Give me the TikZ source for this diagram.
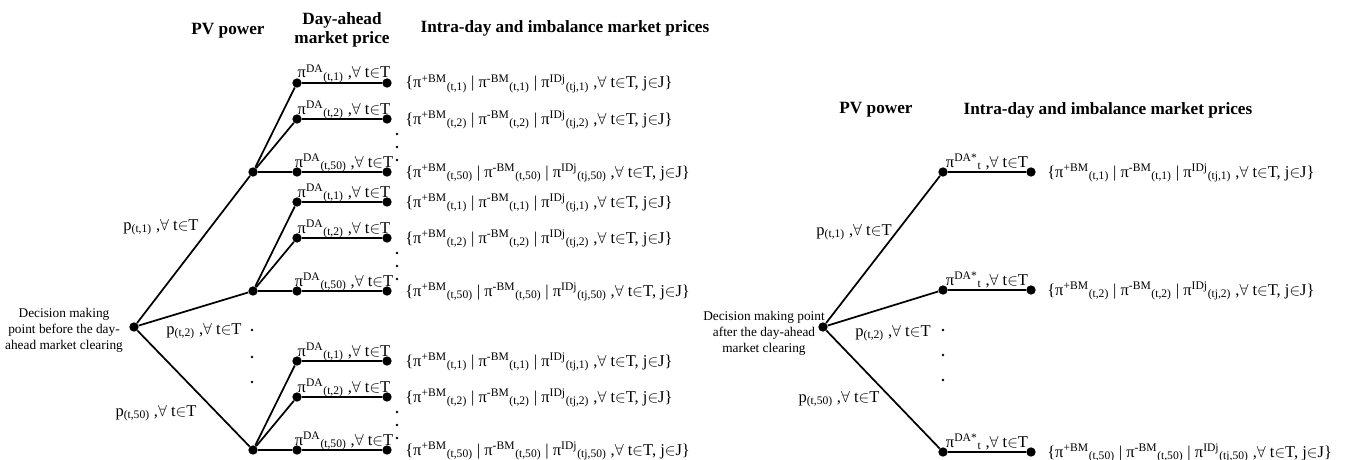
\documentclass[tikz,border=0pt]{standalone}
\usepackage{fontspec}
\setmainfont{Liberation Serif}
\usetikzlibrary{positioning}

\newcommand{\forallT}{,$\forall$ t$\in$T}
\newcommand{\daprice}[1]{π\textsuperscript{DA}\textsubscript{(t,#1)} \forallT}
\newcommand{\dastar}{π\textsuperscript{DA*}\textsubscript{t} \forallT}
\newcommand{\pvpower}[1]{p\textsubscript{(t,#1)} \forallT}
\newcommand{\imprice}[1]{\{π\textsuperscript{+BM}\textsubscript{(t,#1)} | π\textsuperscript{-BM}\textsubscript{(t,#1)} | π\textsuperscript{IDj}\textsubscript{(tj,#1)} \forallT, j$\in$J\}}

\begin{document}
\begin{tikzpicture}[
        x=0.75pt, y=-0.75pt,
        dot/.style={circle, fill=black, inner sep=0pt, minimum size=7pt},
        branch/.style={line width=1.3pt},
        lbl/.style={font=\fontsize{12.4}{14}\selectfont, inner sep=0pt},
        head/.style={font=\fontsize{12.9}{14.5}\selectfont\bfseries, align=center},
        note/.style={font=\fontsize{10}{12}\selectfont, align=center}
    ]
        \useasboundingbox (0,0) rectangle (1345,460);

        % before the day-ahead market clearing
        \node[head] (hpv) at (228,31) {PV power};
        \node[head] (hda) at (342,30) {Day-ahead\\market price};
        \node[head] (hid) at (565,28) {Intra-day and imbalance market prices};

        \node[dot] (root) at (134,327) {};
        \node[note] (rootlbl) at (64,330) {Decision making\\point before the day-\\ahead market clearing};

        \foreach \g/\y in {1/172,2/291,50/450}{
            \node[dot] (pv\g) at (253,\y) {};
            \draw[branch] (root) -- (pv\g);
            \foreach \k/\dy in {1/-89,2/-53,50/0}{
                \node[dot] (da\g-\k) at (297,\y+\dy) {};
                \node[dot] (id\g-\k) at (387,\y+\dy) {};
                \draw[branch] (pv\g) -- (da\g-\k) -- (id\g-\k);
                \node[lbl, anchor=base] (dalbl\g-\k) at (344,\y+\dy-5) {\daprice{\k}};
                \node[lbl, anchor=base west] (idlbl\g-\k) at (405,\y+\dy+5) {\imprice{\k}};
            }
            \foreach \dy in {-38,-25,-12} \fill (397,\y+\dy) circle (1pt);
        }

        \node[lbl, anchor=base] (p1) at (161,230) {\pvpower{1}};
        \node[lbl, anchor=base] (p2) at (204,334) {\pvpower{2}};
        \node[lbl, anchor=base] (p50) at (156,416) {\pvpower{50}};
        \foreach \y in {330,357,382} \fill (252,\y) circle (1pt);

        % after the day-ahead market clearing
        \node[head] (hpvb) at (876,110) {PV power};
        \node[head] (hidb) at (1108,110) {Intra-day and imbalance market prices};

        \node[dot] (rootb) at (823,327) {};
        \node[note] (rootblbl) at (764,333) {Decision making point\\after the day-ahead\\market clearing};

        \foreach \k/\y in {1/172,2/290,50/452}{
            \node[dot] (ds\k) at (943,\y) {};
            \node[dot] (is\k) at (1031,\y) {};
            \draw[branch] (rootb) -- (ds\k) -- (is\k);
            \node[lbl, anchor=base] (dslbl\k) at (987,\y-5) {\dastar};
            \node[lbl, anchor=base west] (islbl\k) at (1047,\y+5) {\imprice{\k}};
        }

        \node[lbl, anchor=base] (q1) at (854,235) {\pvpower{1}};
        \node[lbl, anchor=base] (q2) at (893,336) {\pvpower{2}};
        \node[lbl, anchor=base] (q50) at (839,402) {\pvpower{50}};
        \foreach \y in {330,355,380} \fill (943,\y) circle (1pt);
    \end{tikzpicture}
\end{document}
